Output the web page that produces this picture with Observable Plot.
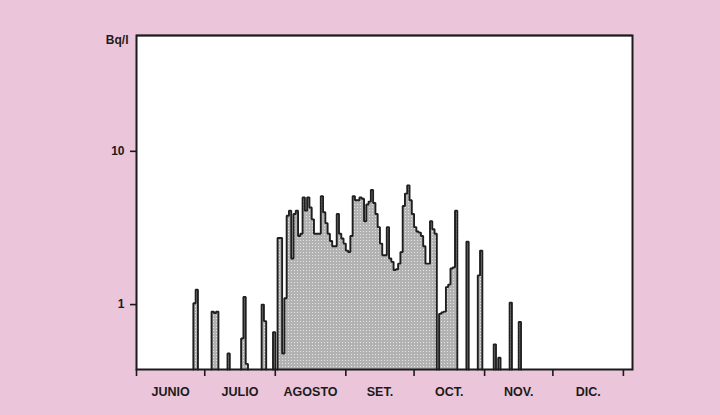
<!DOCTYPE html>
<html>
<head>
<meta charset="utf-8">
<script src="https://cdn.jsdelivr.net/npm/d3@7"></script>
<script src="https://cdn.jsdelivr.net/npm/@observablehq/plot@0.6"></script>
<style>
  html, body { margin: 0; padding: 0; background: #ebc5d9; }
  #chart svg { display: block; }
</style>
</head>
<body>
<div id="chart"></div>
<script>
// Day index counted from 1 June (0 = 1 June)
const days = [
  25, 26, 33, 34, 35, 40, 46, 47, 48, 55, 56, 60,
  62, 63, 64, 65, 66, 67, 68, 69, 70, 71, 72, 73, 74, 75, 76, 77, 78, 79,
  80, 81, 82, 83, 84, 85, 86, 87, 88, 89, 90, 91, 92, 93, 94, 95, 96, 97,
  98, 99, 100, 101, 102, 103, 104, 105, 106, 107, 108, 109, 110, 111, 112,
  113, 114, 115, 116, 117, 118, 119, 120, 121, 122, 123, 124, 125, 126,
  127, 128, 129, 130, 131,
  133, 134, 135, 136, 137, 138, 139, 140,
  145, 150, 151, 157, 159, 164, 168
];
// Activity, Bq/l
const values = [
  1.02, 1.25, 0.9, 0.88, 0.9, 0.48, 0.6, 1.12, 0.41, 1.0, 0.78, 0.66,
  2.72, 2.72, 0.48, 1.1, 3.8, 4.1, 2.0, 3.9, 4.1, 2.8, 2.9, 5.0, 4.1, 5.0, 4.3, 3.6, 2.9, 2.9,
  2.9, 5.1, 4.0, 3.4, 2.9, 2.6, 2.4, 2.4, 3.9, 2.9, 2.7, 2.5, 2.25, 2.2, 2.8, 5.1, 4.8, 4.8,
  5.0, 4.9, 3.5, 4.5, 4.7, 5.6, 4.6, 3.9, 3.2, 2.5, 2.1, 2.1, 3.2, 2.0, 1.9,
  1.68, 1.7, 1.85, 2.2, 4.4, 5.3, 6.0, 4.8, 3.9, 3.2, 3.0, 2.95, 2.8, 2.4,
  1.85, 1.85, 3.5, 3.1, 2.9,
  0.87, 0.89, 0.9, 1.3, 1.35, 1.72, 1.75, 4.1,
  2.57, 1.55, 2.25, 0.55, 0.45, 1.03, 0.77
];
const monthStarts = [0, 30, 61, 92, 122, 153, 183, 214];
const monthLabels = ["JUNIO", "JULIO", "AGOSTO", "SET.", "OCT.", "NOV.", "DIC."];
const yTicks = [1, 10];
const unitLabel = "Bq/l";
const yMin = 0.377, yMax = 57;
const xMax = 218;

// Build stepped outline per run of consecutive days
const outline = [];
let seg = -1, prev = null;
days.forEach((d, i) => {
  if (prev === null || d !== prev + 1) {
    if (prev !== null) outline.push({x: prev + 1, y: yMin, seg});
    seg++;
    outline.push({x: d, y: yMin, seg});
  }
  outline.push({x: d, y: values[i], seg});
  outline.push({x: d + 1, y: values[i], seg});
  prev = d;
});
outline.push({x: prev + 1, y: yMin, seg});

const font = "'Liberation Sans', Arial, Helvetica, sans-serif";
const ink = "#1b1b1b";

const chart = Plot.plot({
  width: 720,
  height: 415,
  marginLeft: 136,
  marginRight: 88,
  marginTop: 35,
  marginBottom: 46,
  style: {background: "#ebc5d9", fontFamily: font, color: ink},
  x: {domain: [0, xMax]},
  y: {type: "log", domain: [yMin, yMax]},
  marks: [
    Plot.rect([0], {x1: 0, x2: xMax, y1: yMin, y2: yMax, fill: "white"}),
    Plot.area(outline, {x1: "x", y1: () => yMin, y2: "y", z: "seg", fill: "url(#stip)"}),
    Plot.line(outline, {x: "x", y: "y", z: "seg", stroke: "#1f1f1f", strokeWidth: 1.9, strokeLinejoin: "miter"}),
    Plot.axisY({ticks: yTicks, tickFormat: d => String(d),
      tickSize: 6, tickPadding: 6, strokeWidth: 1.6, fontSize: 12, fontWeight: "bold", label: null}),
    Plot.tickY([yMax], {y: d => d, stroke: ink, strokeWidth: 1.6,
      x1: () => -3.4, x2: () => 0, clip: false}),
    Plot.text([unitLabel], {frameAnchor: "top-left", dx: -8, textAnchor: "end",
      fontSize: 12, fontWeight: "bold", fill: ink}),
    Plot.axisX({ticks: monthStarts, tickFormat: () => "", tickSize: 7, strokeWidth: 1.6, label: null}),
    Plot.text(monthLabels, {x: (d, i) => (monthStarts[i] + monthStarts[i + 1]) / 2,
      frameAnchor: "bottom", dy: 26, fontSize: 12.5, fontWeight: "bold", fill: ink}),
    Plot.frame({stroke: ink, strokeWidth: 2})
  ]
});

// Halftone-like stipple pattern for the filled region
const ns = "http://www.w3.org/2000/svg";
const defs = document.createElementNS(ns, "defs");
const pat = document.createElementNS(ns, "pattern");
pat.setAttribute("id", "stip");
pat.setAttribute("patternUnits", "userSpaceOnUse");
pat.setAttribute("width", "3");
pat.setAttribute("height", "3");
const r1 = document.createElementNS(ns, "rect");
r1.setAttribute("width", "3"); r1.setAttribute("height", "3"); r1.setAttribute("fill", "#b2b2b2");
const r2 = document.createElementNS(ns, "rect");
r2.setAttribute("width", "1"); r2.setAttribute("height", "1"); r2.setAttribute("fill", "#e4e4e4");
pat.appendChild(r1); pat.appendChild(r2);
defs.appendChild(pat);
chart.insertBefore(defs, chart.firstChild);

document.getElementById("chart").appendChild(chart);
</script>
</body>
</html>
